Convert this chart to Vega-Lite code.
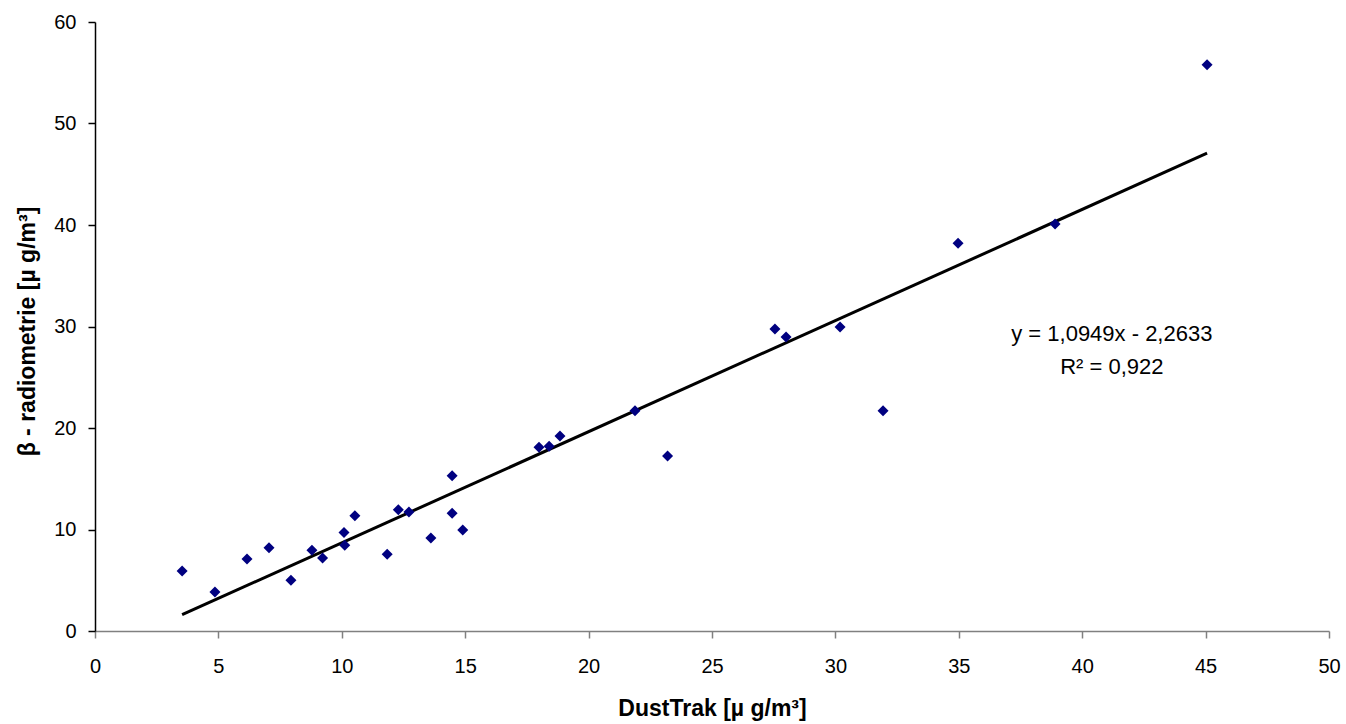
{
  "$schema": "https://vega.github.io/schema/vega-lite/v6.json",
  "width": 1234,
  "height": 609,
  "autosize": {"type": "none"},
  "padding": {"left": 95, "top": 22, "right": 17, "bottom": 93},
  "background": "white",
  "config": {
    "view": {"stroke": null},
    "font": "Liberation Sans"
  },
  "datasets": {
    "points": [
      {"dusttrak": 3.53, "beta": 5.9},
      {"dusttrak": 4.86, "beta": 3.84},
      {"dusttrak": 6.16, "beta": 7.1},
      {"dusttrak": 7.05, "beta": 8.2},
      {"dusttrak": 7.94, "beta": 5.0},
      {"dusttrak": 8.79, "beta": 7.95},
      {"dusttrak": 9.22, "beta": 7.2},
      {"dusttrak": 10.09, "beta": 9.7},
      {"dusttrak": 10.12, "beta": 8.45},
      {"dusttrak": 10.53, "beta": 11.35},
      {"dusttrak": 11.84, "beta": 7.55},
      {"dusttrak": 12.29, "beta": 11.95},
      {"dusttrak": 12.72, "beta": 11.72},
      {"dusttrak": 13.61, "beta": 9.17},
      {"dusttrak": 14.47, "beta": 15.3},
      {"dusttrak": 14.47, "beta": 11.6},
      {"dusttrak": 14.9, "beta": 9.95},
      {"dusttrak": 17.99, "beta": 18.1},
      {"dusttrak": 18.4, "beta": 18.2},
      {"dusttrak": 18.84, "beta": 19.2},
      {"dusttrak": 21.88, "beta": 21.7},
      {"dusttrak": 23.2, "beta": 17.25},
      {"dusttrak": 27.55, "beta": 29.75},
      {"dusttrak": 28.0, "beta": 28.97},
      {"dusttrak": 30.19, "beta": 29.95},
      {"dusttrak": 31.93, "beta": 21.7},
      {"dusttrak": 34.97, "beta": 38.2},
      {"dusttrak": 38.9, "beta": 40.1},
      {"dusttrak": 45.06, "beta": 55.8}
    ],
    "trend": [
      {"dusttrak": 3.53, "beta": 1.602},
      {"dusttrak": 45.06, "beta": 47.073}
    ],
    "labels": [
      {"dusttrak": 41.2, "beta": 29.26, "label": "y = 1,0949x - 2,2633"},
      {"dusttrak": 41.2, "beta": 26.0, "label": "R² = 0,922"}
    ]
  },
  "layer": [
    {
      "data": {"name": "trend"},
      "mark": {"type": "line", "color": "black", "strokeWidth": 3},
      "encoding": {
        "x": {
          "field": "dusttrak", "type": "quantitative",
          "scale": {"domain": [0, 50], "nice": false},
          "axis": {
            "title": "DustTrak [µ g/m³]",
            "values": [0, 5, 10, 15, 20, 25, 30, 35, 40, 45, 50],
            "grid": false,
            "domainColor": "#808080",
            "domainWidth": 1.5,
            "tickColor": "#808080",
            "tickWidth": 1.5,
            "tickSize": 7,
            "labelFontSize": 20,
            "labelColor": "black",
            "labelPadding": 18,
            "labelFlush": false,
            "titleFontSize": 23,
            "titleFontWeight": "bold",
            "titleColor": "black",
            "titleY": 84,
            "titleBaseline": "alphabetic"
          }
        },
        "y": {
          "field": "beta", "type": "quantitative",
          "scale": {"domain": [0, 60], "nice": false},
          "axis": {
            "title": "β - radiometrie [µ g/m³]",
            "values": [0, 10, 20, 30, 40, 50, 60],
            "grid": false,
            "domainColor": "black",
            "domainWidth": 1.5,
            "tickColor": "black",
            "tickWidth": 1.5,
            "tickSize": 7,
            "labelFontSize": 20,
            "labelColor": "black",
            "labelPadding": 12,
            "labelFlush": false,
            "titleFontSize": 23,
            "titleFontWeight": "bold",
            "titleColor": "black",
            "titleAngle": -90,
            "titleX": -61,
            "titleY": 309,
            "titleAlign": "center",
            "titleBaseline": "alphabetic"
          }
        }
      }
    },
    {
      "data": {"name": "points"},
      "mark": {"type": "point", "shape": "diamond", "filled": true, "color": "#000080", "size": 121, "opacity": 1},
      "encoding": {
        "x": {"field": "dusttrak", "type": "quantitative"},
        "y": {"field": "beta", "type": "quantitative"}
      }
    },
    {
      "data": {"name": "labels"},
      "mark": {"type": "text", "fontSize": 22, "color": "black", "align": "center", "baseline": "middle"},
      "encoding": {
        "x": {"field": "dusttrak", "type": "quantitative"},
        "y": {"field": "beta", "type": "quantitative"},
        "text": {"field": "label"}
      }
    }
  ]
}
